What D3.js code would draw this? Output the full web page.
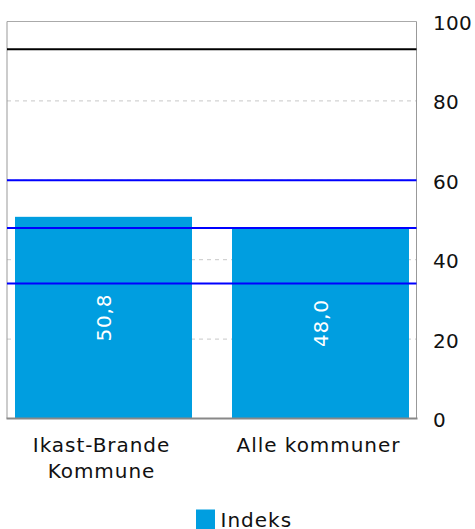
<!DOCTYPE html>
<html><head><meta charset="utf-8">
<script src="https://cdn.jsdelivr.net/npm/d3@7"></script>
<style>body{margin:0;background:#fff;} svg{display:block;font-family:"DejaVu Sans",Verdana,sans-serif;}</style>
</head><body>
<svg id="c" width="475" height="529"></svg>
<script>
const categories = [["Ikast-Brande","Kommune"],["Alle kommuner"]];
const values = [50.8, 48.0];
const valueLabels = ["50,8", "48,0"];
const refBlack = [93];
const refBlue = [60, 48, 34];
const yTicks = [0, 20, 40, 60, 80, 100];
const seriesName = "Indeks";

(function(){
const svg = d3.select("#c");
const pL = 7, pR = 416.5, pT = 21.5, pB = 418.5;
const y = d3.scaleLinear().domain([0,100]).range([pB, pT]);
const x = d3.scaleBand().domain(d3.range(values.length)).range([-5, 429])
  .paddingInner(40/217).paddingOuter(20/217);

// grid
svg.append("g").selectAll("line").data(yTicks.filter(d=>d>0 && d<100)).join("line")
  .attr("x1", pL).attr("x2", pR).attr("y1", d=>y(d)).attr("y2", d=>y(d))
  .attr("stroke", "#c8c8c8").attr("stroke-dasharray", "4,4");
svg.append("line").attr("x1", pL).attr("x2", pR).attr("y1", y(100)).attr("y2", y(100))
  .attr("stroke", "#aaa").attr("stroke-width", 1);

// bars
svg.append("g").selectAll("rect").data(values).join("rect")
  .attr("x", (d,i)=>x(i)).attr("width", x.bandwidth())
  .attr("y", d=>y(d)).attr("height", d=>y(0)-y(d))
  .attr("fill", "#009ee0");

// frame sides
svg.append("line").attr("x1", pL).attr("x2", pL).attr("y1", pT).attr("y2", pB).attr("stroke", "#999");
svg.append("line").attr("x1", pR).attr("x2", pR).attr("y1", pT).attr("y2", pB).attr("stroke", "#999");
svg.append("line").attr("x1", pL-0.5).attr("x2", pR+1).attr("y1", pB).attr("y2", pB).attr("stroke", "#888").attr("stroke-width", 2);

// reference lines
svg.append("g").selectAll("line").data(refBlack).join("line")
  .attr("x1", pL).attr("x2", pR).attr("y1", d=>y(d)).attr("y2", d=>y(d))
  .attr("stroke", "#000").attr("stroke-width", 2);
svg.append("g").selectAll("line").data(refBlue).join("line")
  .attr("x1", pL).attr("x2", pR).attr("y1", d=>y(d)).attr("y2", d=>y(d))
  .attr("stroke", "#0000ff").attr("stroke-width", 2);

// value labels
svg.append("g").selectAll("text").data(values).join("text")
  .attr("transform", (d,i)=>`translate(${x(i)+x.bandwidth()/2},${(y(d)+y(0))/2}) rotate(-90)`)
  .attr("text-anchor","middle").attr("dy","0.35em")
  .attr("fill","#fff").attr("font-size", 20).attr("letter-spacing", 0.8)
  .text((d,i)=>valueLabels[i]);

// y axis right
const ax = svg.append("g").attr("transform", `translate(${433},0)`)
  .call(d3.axisRight(y).tickValues(yTicks).tickSize(0).tickPadding(0).tickFormat(d3.format("d")));
ax.select(".domain").remove();
ax.selectAll("text").attr("font-size", 20).attr("fill", "#111").attr("letter-spacing", 0.3)
  .attr("font-family", "DejaVu Sans, Verdana, sans-serif").attr("dy", "0.4em");

// category labels
const cl = svg.append("g").selectAll("text").data(categories).join("text")
  .attr("text-anchor","middle").attr("font-size", 20).attr("fill", "#111")
  .attr("letter-spacing", 0.95)
  .attr("x", (d,i)=>x(i)+x.bandwidth()/2 - 2).attr("y", 452);
cl.selectAll("tspan").data(d=>d).join("tspan")
  .attr("x", function(){return this.parentNode.getAttribute("x");})
  .attr("dy", (d,i)=>i===0?0:26).text(d=>d);

// legend
const lg = svg.append("g").attr("transform", "translate(196,509.5)");
lg.append("rect").attr("width", 19).attr("height", 20).attr("fill", "#009ee0");
lg.append("text").attr("x", 24.5).attr("y", 17.3).attr("font-size", 20).attr("letter-spacing", 1)
  .attr("fill", "#111").text(seriesName);
})();
</script>
</body></html>
